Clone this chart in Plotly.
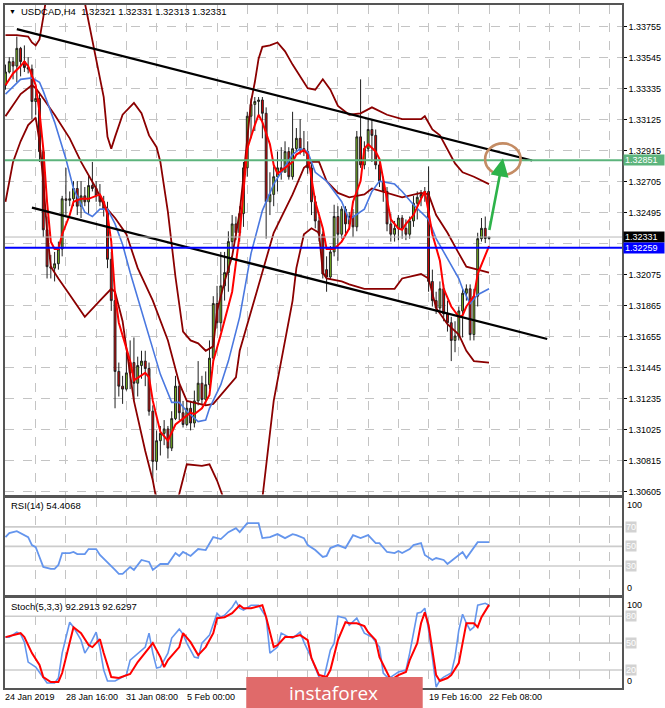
import plotly.graph_objects as go

# USDCAD H4, bars 24 Jan 2019 00:00 .. 22 Feb 2019 08:00 (bar index 0..128)
bar_open = [1.3336, 1.3345, 1.3352, 1.3349, 1.3361, 1.3352, 1.3348, 1.3347, 1.3325, 1.3327,
            1.3291, 1.3238, 1.3213, 1.3212, 1.3215, 1.3225, 1.3259, 1.3258, 1.3259, 1.3266,
            1.3254, 1.3261, 1.3257, 1.3268, 1.3266, 1.3261, 1.3257, 1.3252, 1.3218, 1.3190,
            1.3142, 1.3132, 1.3130, 1.3141, 1.3148, 1.3134, 1.3146, 1.3149, 1.3144, 1.3115,
            1.3081, 1.3095, 1.3100, 1.3103, 1.3090, 1.3110, 1.3132, 1.3114, 1.3106, 1.3117,
            1.3107, 1.3122, 1.3134, 1.3123, 1.3133, 1.3151, 1.3188, 1.3175, 1.3200, 1.3209,
            1.3230, 1.3242, 1.3236, 1.3249, 1.3280, 1.3315, 1.3323, 1.3325, 1.3326, 1.3317,
            1.3257, 1.3262, 1.3274, 1.3280, 1.3277, 1.3291, 1.3274, 1.3293, 1.3300, 1.3293,
            1.3291, 1.3280, 1.3257, 1.3244, 1.3235, 1.3211, 1.3206, 1.3223, 1.3247, 1.3235,
            1.3252, 1.3242, 1.3247, 1.3240, 1.3301, 1.3282, 1.3293, 1.3306, 1.3302, 1.3282,
            1.3271, 1.3264, 1.3242, 1.3235, 1.3239, 1.3246, 1.3239, 1.3235, 1.3244, 1.3256,
            1.3260, 1.3262, 1.3264, 1.3203, 1.3190, 1.3185, 1.3198, 1.3181, 1.3175, 1.3163,
            1.3166, 1.3183, 1.3195, 1.3198, 1.3167, 1.3193, 1.3232, 1.3239, 1.32321]
bar_high = [1.3350, 1.3355, 1.3355, 1.3369, 1.3362, 1.3363, 1.3355, 1.3350, 1.3335, 1.3330,
            1.3294, 1.3247, 1.3221, 1.3223, 1.3230, 1.3261, 1.3280, 1.3264, 1.3271, 1.3271,
            1.3271, 1.3267, 1.3275, 1.3284, 1.3271, 1.3269, 1.3261, 1.3257, 1.3223, 1.3196,
            1.3148, 1.3139, 1.3155, 1.3163, 1.3165, 1.3152, 1.3156, 1.3156, 1.3148, 1.3119,
            1.3102, 1.3105, 1.3109, 1.3105, 1.3115, 1.3139, 1.3135, 1.3122, 1.3122, 1.3122,
            1.3129, 1.3149, 1.3139, 1.3142, 1.3163, 1.3193, 1.3200, 1.3223, 1.3223, 1.3237,
            1.3248, 1.3247, 1.3254, 1.3284, 1.3318, 1.3327, 1.3328, 1.3328, 1.3328, 1.3321,
            1.3277, 1.3281, 1.3291, 1.3294, 1.3298, 1.3294, 1.3318, 1.3307, 1.3313, 1.3305,
            1.3298, 1.3284, 1.3261, 1.3247, 1.3237, 1.3220, 1.3227, 1.3255, 1.3254, 1.3254,
            1.3254, 1.3250, 1.3252, 1.3305, 1.3340, 1.3298, 1.3313, 1.3313, 1.3306, 1.3286,
            1.3274, 1.3267, 1.3249, 1.3244, 1.3248, 1.3248, 1.3245, 1.3247, 1.3261, 1.3264,
            1.3265, 1.3267, 1.3281, 1.3211, 1.3196, 1.3203, 1.3201, 1.3190, 1.3179, 1.3176,
            1.3186, 1.3198, 1.3201, 1.3201, 1.3198, 1.3236, 1.3246, 1.3247, 1.32331]
bar_low = [1.3333, 1.3344, 1.3340, 1.3338, 1.3342, 1.3345, 1.3344, 1.3313, 1.3316, 1.3284,
           1.3233, 1.3205, 1.3205, 1.3203, 1.3211, 1.3220, 1.3248, 1.3254, 1.3254, 1.3248,
           1.3246, 1.3254, 1.3248, 1.3264, 1.3257, 1.3254, 1.3247, 1.3212, 1.3183, 1.3117,
           1.3125, 1.3120, 1.3129, 1.3130, 1.3122, 1.3125, 1.3137, 1.3132, 1.3112, 1.3068,
           1.3075, 1.3085, 1.3092, 1.3083, 1.3088, 1.3109, 1.3109, 1.3104, 1.3105, 1.3102,
           1.3104, 1.3119, 1.3119, 1.3119, 1.3130, 1.3149, 1.3171, 1.3169, 1.3190, 1.3196,
           1.3225, 1.3231, 1.3230, 1.3240, 1.3274, 1.3300, 1.3305, 1.3315, 1.3300, 1.3232,
           1.3248, 1.3254, 1.3264, 1.3272, 1.3277, 1.3272, 1.3272, 1.3291, 1.3289, 1.3288,
           1.3276, 1.3248, 1.3239, 1.3230, 1.3205, 1.3196, 1.3204, 1.3220, 1.3217, 1.3232,
           1.3233, 1.3238, 1.3233, 1.3237, 1.3280, 1.3279, 1.3291, 1.3284, 1.3279, 1.3267,
           1.3257, 1.3237, 1.3230, 1.3230, 1.3231, 1.3232, 1.3231, 1.3232, 1.3240, 1.3245,
           1.3254, 1.3257, 1.3196, 1.3186, 1.3181, 1.3183, 1.3176, 1.3169, 1.3149, 1.3155,
           1.3163, 1.3165, 1.3190, 1.3163, 1.3163, 1.3186, 1.3230, 1.3229, 1.32313]
bar_close = [1.3345, 1.3352, 1.3349, 1.3361, 1.3352, 1.3348, 1.3347, 1.3325, 1.3327, 1.3291,
             1.3238, 1.3213, 1.3212, 1.3215, 1.3225, 1.3259, 1.3258, 1.3259, 1.3266, 1.3254,
             1.3261, 1.3257, 1.3268, 1.3266, 1.3261, 1.3257, 1.3252, 1.3218, 1.3190, 1.3142,
             1.3132, 1.3130, 1.3141, 1.3148, 1.3134, 1.3146, 1.3149, 1.3144, 1.3115, 1.3081,
             1.3095, 1.3100, 1.3103, 1.3090, 1.3110, 1.3132, 1.3114, 1.3106, 1.3117, 1.3107,
             1.3122, 1.3134, 1.3123, 1.3133, 1.3151, 1.3188, 1.3175, 1.3200, 1.3209, 1.3230,
             1.3242, 1.3236, 1.3249, 1.3280, 1.3315, 1.3323, 1.3325, 1.3326, 1.3317, 1.3257,
             1.3262, 1.3274, 1.3280, 1.3277, 1.3291, 1.3274, 1.3293, 1.3300, 1.3293, 1.3291,
             1.3280, 1.3257, 1.3244, 1.3235, 1.3208, 1.3206, 1.3223, 1.3247, 1.3235, 1.3252,
             1.3242, 1.3247, 1.3240, 1.3301, 1.3282, 1.3293, 1.3306, 1.3302, 1.3282, 1.3271,
             1.3264, 1.3242, 1.3235, 1.3239, 1.3246, 1.3239, 1.3235, 1.3244, 1.3256, 1.3260,
             1.3262, 1.3264, 1.3203, 1.3190, 1.3185, 1.3198, 1.3181, 1.3175, 1.3163, 1.3166,
             1.3183, 1.3195, 1.3198, 1.3167, 1.3193, 1.3232, 1.3239, 1.32321, 1.32331]

# Bollinger bands (maroon), read as (bar index, price) vertices
bb_up_x = [0, 3, 6, 7, 8, 9, 10, 11, 14, 18, 21, 22, 24, 26, 27, 28, 29, 31, 34, 36, 38, 40, 41,
           43, 45, 47, 49, 51, 53, 55, 56, 58, 60, 62, 63, 64, 65, 66, 67, 68, 70, 72, 74, 76,
           78, 80, 82, 84, 86, 88, 91, 94, 97, 101, 105, 110, 111, 113, 115, 117, 119, 121, 124, 128]
bb_up_y = [1.3370, 1.3370, 1.3369, 1.3365, 1.3363, 1.3367, 1.3382, 1.3399, 1.3433, 1.3419,
           1.3392, 1.3379, 1.3352, 1.3328, 1.3301, 1.3293, 1.3301, 1.3316, 1.3324, 1.3317,
           1.3302, 1.3294, 1.3284, 1.3250, 1.3206, 1.3169, 1.3163, 1.3161, 1.3156, 1.3159,
           1.3183, 1.3203, 1.3220, 1.3250, 1.3274, 1.3301, 1.3325, 1.3338, 1.3354, 1.3362,
           1.3363, 1.3365, 1.3359, 1.3350, 1.3342, 1.3334, 1.3333, 1.3340, 1.3333, 1.3322,
           1.3316, 1.3317, 1.3321, 1.3316, 1.3313, 1.3313, 1.3315, 1.3306, 1.3302, 1.3292,
           1.3283, 1.3277, 1.3274, 1.3269]
bb_mid_x = [0, 4, 7, 8, 10, 13, 17, 20, 24, 26, 29, 32, 35, 39, 43, 46, 48, 53, 55, 61, 62, 67,
            71, 76, 79, 81, 83, 85, 88, 91, 95, 97, 101, 105, 110, 112, 114, 117, 120, 122, 125, 128]
bb_mid_y = [1.3315, 1.3330, 1.3336, 1.3334, 1.3327, 1.3316, 1.3300, 1.3284, 1.3266, 1.3255,
            1.3246, 1.3235, 1.3212, 1.3190, 1.3163, 1.3134, 1.3122, 1.3119, 1.3120, 1.3138,
            1.3156, 1.3201, 1.3236, 1.3262, 1.3280, 1.3284, 1.3284, 1.3271, 1.3263, 1.3260,
            1.3262, 1.3266, 1.3263, 1.3260, 1.3263, 1.3262, 1.3248, 1.3236, 1.3222, 1.3213,
            1.3211, 1.3209]
bb_low_x = [0, 2, 4, 6, 8, 9, 10, 11, 12, 14, 17, 21, 25, 28, 29, 31, 34, 37, 39, 41, 44, 46,
            48, 52, 54, 56, 58, 61, 64, 66, 68, 71, 76, 77, 79, 80, 81, 83, 84, 85, 89, 91, 95,
            98, 103, 105, 110, 112, 114, 117, 120, 122, 124, 128]
bb_low_y = [1.3257, 1.3284, 1.3298, 1.3309, 1.3314, 1.3298, 1.3271, 1.3237, 1.3213, 1.3205,
            1.3194, 1.3179, 1.3190, 1.3198, 1.3196, 1.3176, 1.3122, 1.3088, 1.3068, 1.3041,
            1.3048, 1.3059, 1.3079, 1.3078, 1.3079, 1.3068, 1.3054, 1.3027, 1.3007, 1.3007,
            1.3056, 1.3122, 1.3190, 1.3212, 1.3235, 1.3237, 1.3239, 1.3236, 1.3209, 1.3205,
            1.3203, 1.3201, 1.3198, 1.3198, 1.3198, 1.3205, 1.3208, 1.3205, 1.3185, 1.3174,
            1.3167, 1.3156, 1.3149, 1.3148]

# blue moving average
ma_slow_x = [0, 2, 4, 7, 9, 10, 13, 16, 18, 21, 23, 25, 27, 29, 31, 33, 36, 39, 41, 44, 46, 48,
             51, 53, 54, 57, 59, 62, 65, 68, 71, 76, 78, 80, 82, 85, 89, 91, 95, 97, 99, 103,
             105, 108, 112, 114, 117, 120, 121, 123, 125, 128]
ma_slow_y = [1.3330, 1.3335, 1.3340, 1.3341, 1.3338, 1.3332, 1.3311, 1.3286, 1.3266, 1.3250,
             1.3247, 1.3252, 1.3252, 1.3242, 1.3228, 1.3209, 1.3183, 1.3158, 1.3140, 1.3121,
             1.3121, 1.3115, 1.3108, 1.3109, 1.3117, 1.3133, 1.3149, 1.3179, 1.3222, 1.3251,
             1.3269, 1.3289, 1.3293, 1.3291, 1.3277, 1.3271, 1.3257, 1.3245, 1.3252, 1.3264,
             1.3271, 1.3269, 1.3264, 1.3255, 1.3245, 1.3232, 1.3218, 1.3205, 1.3198, 1.3188,
             1.3194, 1.3198]

# red moving average
ma_fast_x = [0, 2, 4, 5, 6, 8, 9, 10, 11, 12, 13, 14, 15, 17, 18, 20, 22, 25, 26, 27, 28, 29,
             30, 33, 34, 37, 38, 39, 41, 43, 45, 47, 49, 50, 52, 54, 55, 57, 60, 62, 63, 64, 66,
             67, 68, 70, 71, 72, 74, 76, 77, 79, 80, 81, 82, 84, 85, 87, 89, 91, 92, 94, 95, 96,
             98, 99, 100, 101, 102, 104, 105, 106, 108, 110, 111, 112, 113, 115, 116, 118, 120,
             121, 122, 124, 125, 128]
ma_fast_y = [1.3336, 1.3344, 1.3349, 1.3352, 1.3349, 1.3336, 1.3318, 1.3293, 1.3257, 1.3230,
             1.3225, 1.3225, 1.3235, 1.3248, 1.3257, 1.3259, 1.3259, 1.3262, 1.3257, 1.3248,
             1.3230, 1.3194, 1.3175, 1.3149, 1.3136, 1.3141, 1.3138, 1.3122, 1.3101, 1.3095,
             1.3106, 1.3110, 1.3114, 1.3113, 1.3117, 1.3126, 1.3149, 1.3167, 1.3196, 1.3235,
             1.3262, 1.3293, 1.3309, 1.3316, 1.3311, 1.3296, 1.3282, 1.3276, 1.3280, 1.3284,
             1.3289, 1.3292, 1.3289, 1.3274, 1.3257, 1.3239, 1.3225, 1.3225, 1.3230, 1.3239,
             1.3257, 1.3271, 1.3293, 1.3296, 1.3291, 1.3286, 1.3272, 1.3257, 1.3245, 1.3239,
             1.3238, 1.3242, 1.3248, 1.3259, 1.3264, 1.3250, 1.3235, 1.3217, 1.3198, 1.3186,
             1.3179, 1.3180, 1.3186, 1.3193, 1.3208, 1.3227]

# RSI(14)
rsi_x = [0, 1, 3, 5, 6, 7, 8, 9, 10, 12, 13, 14, 15, 17, 18, 19, 21, 22, 24, 25, 27, 29, 30, 31,
         33, 34, 36, 38, 39, 41, 43, 45, 46, 47, 49, 51, 53, 55, 57, 59, 61, 62, 64, 65, 67, 68,
         70, 72, 74, 76, 77, 79, 80, 82, 84, 85, 86, 88, 90, 92, 94, 96, 98, 99, 101, 103, 104,
         105, 107, 108, 110, 111, 113, 114, 116, 117, 119, 121, 122, 124, 125, 126, 128]
rsi_y = [59.5, 63.6, 65.6, 61.5, 59.5, 51.4, 49.3, 39.2, 29.0, 27.0, 27.0, 31.0, 43.2, 43.2,
         44.3, 42.2, 42.2, 47.3, 47.3, 41.2, 34.1, 26.0, 21.9, 21.9, 29.0, 26.0, 36.1, 34.1,
         26.0, 32.0, 32.0, 43.2, 40.2, 44.3, 40.2, 47.3, 46.3, 59.5, 57.5, 64.6, 68.7, 64.6,
         73.8, 73.8, 73.8, 58.5, 59.5, 62.6, 58.5, 62.6, 61.5, 58.5, 51.4, 46.3, 39.2, 40.2,
         48.3, 51.4, 48.3, 61.5, 58.5, 61.5, 53.4, 53.4, 44.3, 43.2, 45.3, 43.2, 47.3, 51.4,
         53.4, 41.2, 36.1, 38.1, 36.1, 32.0, 38.1, 44.3, 38.1, 48.3, 54.4, 54.4, 54.4068]

# Stochastic(5,3,3): main (%K) and signal (%D)
stk_x = [0, 1, 3, 4, 5, 6, 8, 9, 11, 13, 14, 15, 17, 18, 20, 21, 22, 24, 25, 26, 27, 29, 31, 32,
         33, 35, 37, 38, 39, 40, 41, 43, 44, 46, 47, 48, 50, 51, 52, 54, 56, 57, 58, 60, 61, 62,
         63, 65, 67, 69, 70, 72, 73, 75, 76, 78, 79, 81, 83, 84, 86, 87, 88, 90, 91, 93, 94, 95,
         97, 99, 100, 101, 102, 104, 106, 107, 109, 110, 111, 112, 113, 114, 115, 116, 118, 119,
         120, 121, 122, 123, 124, 125, 127, 128]
stk_y = [56.7, 56.7, 62.2, 60.0, 51.1, 28.9, 23.3, 17.8, 5.6, 5.6, 11.1, 38.9, 73.3, 67.8, 53.3,
         38.9, 45.6, 62.2, 44.4, 20.0, 7.8, 7.8, 12.2, 14.4, 31.1, 38.9, 45.6, 61.1, 38.9, 22.2,
         23.3, 38.9, 55.6, 65.6, 60.0, 50.0, 34.4, 33.3, 50.0, 58.9, 83.3, 78.9, 81.1, 90.0,
         96.7, 88.9, 86.7, 92.2, 92.2, 78.9, 38.9, 45.6, 61.1, 56.7, 55.6, 62.2, 51.1, 33.3,
         12.2, 5.6, 42.2, 50.0, 80.0, 77.8, 70.0, 77.8, 70.0, 61.1, 56.7, 45.6, 16.7, 12.2,
         12.2, 17.8, 20.0, 38.9, 83.3, 84.4, 88.9, 64.4, 34.4, 1.1, 8.9, 12.2, 16.7, 34.4, 64.4,
         82.2, 72.2, 64.4, 67.8, 92.2, 94.4, 92.2913]
sig_x = [0, 2, 4, 5, 7, 9, 10, 12, 14, 15, 17, 18, 20, 22, 23, 25, 26, 28, 30, 32, 33, 35, 37,
         39, 41, 42, 43, 46, 47, 49, 51, 53, 55, 56, 58, 60, 62, 63, 65, 68, 69, 71, 72, 74, 76,
         78, 80, 81, 83, 85, 86, 88, 90, 91, 93, 95, 96, 98, 99, 101, 102, 104, 106, 107, 109,
         110, 111, 112, 113, 114, 115, 117, 118, 120, 121, 122, 124, 125, 126, 128]
sig_y = [56.7, 58.9, 61.1, 56.7, 38.9, 25.6, 12.2, 6.7, 6.7, 16.7, 50.0, 67.8, 61.1, 47.8, 45.6,
         54.4, 38.9, 12.2, 11.1, 14.4, 15.6, 28.9, 40.0, 50.0, 34.4, 23.3, 31.1, 45.6, 61.1,
         51.1, 36.7, 45.6, 61.1, 77.8, 78.9, 83.3, 92.2, 88.9, 88.9, 92.2, 78.9, 45.6, 47.8,
         56.7, 56.7, 58.9, 53.3, 33.3, 14.4, 12.2, 20.0, 53.3, 73.3, 72.2, 72.2, 68.9, 62.2,
         53.3, 34.4, 16.7, 8.9, 14.4, 17.8, 31.1, 50.0, 72.2, 84.4, 70.0, 42.2, 14.4, 7.8, 11.1,
         14.4, 27.8, 50.0, 72.2, 72.2, 67.8, 78.9, 92.6297]

# chart objects
trend_top_x = [3.0, 139.4]
trend_top_y = [1.3374, 1.3285]
trend_bot_x = [7.0, 143.4]
trend_bot_y = [1.3253, 1.3164]
level_green = 1.32851
level_blue = 1.32259
ellipse_x = [126.96, 136.36]
ellipse_y = [1.32752, 1.32966]
arrow_from = (128.0, 1.32369)
arrow_to = (131.7, 1.32865)

price_ticks = [1.30605, 1.30815, 1.31025, 1.31235, 1.31445, 1.31655, 1.31865, 1.32075,
               1.32285, 1.32495, 1.32705, 1.32915, 1.33125, 1.33335, 1.33545, 1.33755]
# 1.32285 sits under the price boxes on the terminal, so its label is not shown
price_ticktext = ["1.30605", "1.30815", "1.31025", "1.31235", "1.31445", "1.31655", "1.31865",
                  "1.32075", "", "1.32495", "1.32705", "1.32915", "1.33125", "1.33335",
                  "1.33545", "1.33755"]
x_label_idx = [0, 16, 32, 48, 112, 128]
x_label_txt = ["24 Jan 2019", "28 Jan 16:00", "31 Jan 08:00", "5 Feb 00:00",
               "19 Feb 16:00", "22 Feb 08:00"]

FONT = "Liberation Sans, Arial, sans-serif"
MAROON = "#8b0000"
GRID = "#c4c4c4"
FRAME = "#555555"
bars = list(range(len(bar_close)))

fig = go.Figure()

fig.add_trace(go.Candlestick(
    x=bars, open=bar_open, high=bar_high, low=bar_low, close=bar_close,
    increasing=dict(line=dict(color="#202020", width=1), fillcolor="#7cbf1e"),
    decreasing=dict(line=dict(color="#202020", width=1), fillcolor="#e60000"),
    whiskerwidth=0, xaxis="x", yaxis="y", showlegend=False, hoverinfo="skip"))

for xs, ys in [(bb_up_x, bb_up_y), (bb_mid_x, bb_mid_y), (bb_low_x, bb_low_y)]:
    fig.add_trace(go.Scatter(x=xs, y=ys, mode="lines", line=dict(color=MAROON, width=1.8),
                             xaxis="x", yaxis="y", showlegend=False, hoverinfo="skip"))
fig.add_trace(go.Scatter(x=ma_slow_x, y=ma_slow_y, mode="lines",
                         line=dict(color="#4a78e0", width=1.6),
                         xaxis="x", yaxis="y", showlegend=False, hoverinfo="skip"))
fig.add_trace(go.Scatter(x=ma_fast_x, y=ma_fast_y, mode="lines",
                         line=dict(color="#ff0000", width=2),
                         xaxis="x", yaxis="y", showlegend=False, hoverinfo="skip"))
for xs, ys in [(trend_top_x, trend_top_y), (trend_bot_x, trend_bot_y)]:
    fig.add_trace(go.Scatter(x=xs, y=ys, mode="lines", line=dict(color="black", width=2.2),
                             xaxis="x", yaxis="y", showlegend=False, hoverinfo="skip"))

fig.add_trace(go.Scatter(x=rsi_x, y=rsi_y, mode="lines", line=dict(color="#6495ed", width=1.8),
                         xaxis="x2", yaxis="y2", showlegend=False, hoverinfo="skip"))
fig.add_trace(go.Scatter(x=stk_x, y=stk_y, mode="lines", line=dict(color="#6495ed", width=1.6),
                         xaxis="x3", yaxis="y3", showlegend=False, hoverinfo="skip"))
fig.add_trace(go.Scatter(x=sig_x, y=sig_y, mode="lines", line=dict(color="#ff0000", width=2),
                         xaxis="x3", yaxis="y3", showlegend=False, hoverinfo="skip"))

shapes = [
    dict(type="line", xref="paper", x0=0, x1=1, yref="y", y0=bar_close[-1], y1=bar_close[-1],
         line=dict(color="#b8b8b8", width=1), layer="above"),
    dict(type="line", xref="paper", x0=0, x1=1, yref="y", y0=level_green, y1=level_green,
         line=dict(color="#5cb47c", width=2), layer="above"),
    dict(type="line", xref="paper", x0=0, x1=1, yref="y", y0=level_blue, y1=level_blue,
         line=dict(color="#0000ff", width=2), layer="above"),
    dict(type="circle", xref="x", yref="y", x0=ellipse_x[0], x1=ellipse_x[1],
         y0=ellipse_y[0], y1=ellipse_y[1], line=dict(color="#c48c64", width=2.6), layer="above"),
]
for lv in [70, 50, 30]:
    shapes.append(dict(type="line", xref="paper", x0=0, x1=1, yref="y2", y0=lv, y1=lv,
                       line=dict(color="#cccccc", width=1.6), layer="below"))
for lv in [80, 50, 20]:
    shapes.append(dict(type="line", xref="paper", x0=0, x1=1, yref="y3", y0=lv, y1=lv,
                       line=dict(color="#cccccc", width=1.6), layer="below"))
# instaforex watermark box
shapes.append(dict(type="rect", xref="paper", yref="paper", x0=0.391, x1=0.677,
                   y0=-0.03, y1=0.016, fillcolor="#e06a6a", line=dict(width=0), layer="above"))

ann = []
ann.append(dict(xref="paper", yref="paper", x=0.004, y=0.9898, text="▼", showarrow=False,
                xanchor="left", yanchor="middle", font=dict(size=7, color="black")))
ann.append(dict(xref="paper", yref="paper", x=0.0226, y=0.9898, showarrow=False,
                xanchor="left", yanchor="middle", font=dict(size=9.5, color="black"),
                text="USDCAD,H4  %.5f %.5f %.5f %.5f" % (bar_open[-1], bar_high[-1],
                                                        bar_low[-1], bar_close[-1])))
ann.append(dict(xref="paper", yref="paper", x=0.0065, y=0.267, showarrow=False,
                xanchor="left", yanchor="middle", text="RSI(14) %.4f" % rsi_y[-1],
                font=dict(size=9.5, color="black")))
ann.append(dict(xref="paper", yref="paper", x=0.0065, y=0.1197, showarrow=False,
                xanchor="left", yanchor="middle",
                text="Stoch(5,3,3) %.4f %.4f" % (stk_y[-1], sig_y[-1]),
                font=dict(size=9.5, color="black")))

for val, bg in [(level_green, "#5cb47c"), (bar_close[-1], "black"), (level_blue, "#0000ff")]:
    ann.append(dict(xref="paper", yref="y", x=1, y=val, xanchor="left", yanchor="middle",
                    xshift=1, text="%.5f" % val, showarrow=False, bgcolor=bg, width=38,
                    height=8, align="left", borderpad=1, font=dict(size=9, color="white")))

for yr, lvls in [("y2", [70, 50, 30]), ("y3", [80, 50, 20])]:
    ann.append(dict(xref="paper", yref=yr, x=1, y=100, xanchor="left", yanchor="top",
                    xshift=3, text="100", showarrow=False, font=dict(size=9, color="black")))
    ann.append(dict(xref="paper", yref=yr, x=1, y=0, xanchor="left", yanchor="bottom",
                    xshift=3, text="0", showarrow=False, font=dict(size=9, color="black")))
    for lv in lvls:
        ann.append(dict(xref="paper", yref=yr, x=1, y=lv, xanchor="left", yanchor="middle",
                        xshift=3, text=str(lv), showarrow=False, bgcolor="#d2d2d2",
                        borderpad=0, font=dict(size=9, color="white")))

for idx, txt in zip(x_label_idx, x_label_txt):
    ann.append(dict(xref="x3", yref="paper", x=idx, y=-0.0131, xanchor="left",
                    yanchor="middle", xshift=-2, text=txt, showarrow=False,
                    font=dict(size=9, color="black")))

ann.append(dict(xref="x", yref="y", x=arrow_to[0], y=arrow_to[1], ax=arrow_from[0],
                ay=arrow_from[1], axref="x", ayref="y", text="", showarrow=True,
                arrowhead=2, arrowsize=1.4, arrowwidth=2.6, arrowcolor="#2db34a"))

ann.append(dict(xref="paper", yref="paper", x=0.533, y=-0.007, text="instaforex",
                showarrow=False, xanchor="center", yanchor="middle",
                font=dict(size=19, color="white", family="Open Sans, Liberation Sans")))

grid_x = list(range(0, 168, 8))
xcommon = dict(range=[-0.13, 163.2], tickvals=grid_x, showticklabels=False, showgrid=True,
               gridcolor=GRID, griddash="dash", gridwidth=1, zeroline=False,
               showline=True, linecolor=FRAME, linewidth=1.5, mirror=True, ticks="",
               rangeslider=dict(visible=False))
ycommon = dict(side="right", zeroline=False, showline=True, linecolor=FRAME, linewidth=1.5,
               mirror=True)

fig.update_layout(
    width=665, height=708, margin=dict(l=3, r=43, t=3, b=20),
    paper_bgcolor="white", plot_bgcolor="white",
    font=dict(family=FONT, size=9, color="black"),
    showlegend=False,
    xaxis=dict(**xcommon, anchor="y"),
    xaxis2=dict(**xcommon, anchor="y2", matches="x"),
    xaxis3=dict(**xcommon, anchor="y3", matches="x"),
    yaxis=dict(**ycommon, domain=[0.2832, 1], range=[1.30585, 1.33904],
               tickvals=price_ticks, ticktext=price_ticktext,
               ticks="outside", ticklen=3, tickcolor="black", showgrid=True,
               gridcolor=GRID, griddash="dash", tickfont=dict(size=9)),
    yaxis2=dict(**ycommon, domain=[0.1358, 0.2788], range=[0, 100], showticklabels=False,
                showgrid=False),
    yaxis3=dict(**ycommon, domain=[0, 0.1314], range=[0, 100], showticklabels=False,
                showgrid=False),
    shapes=shapes, annotations=ann,
)

# the page's default body margin would shift the 665x708 figure; drop it
fig.write_html("out.html", config={"displayModeBar": False},
               post_script="document.body.style.margin='0';")
